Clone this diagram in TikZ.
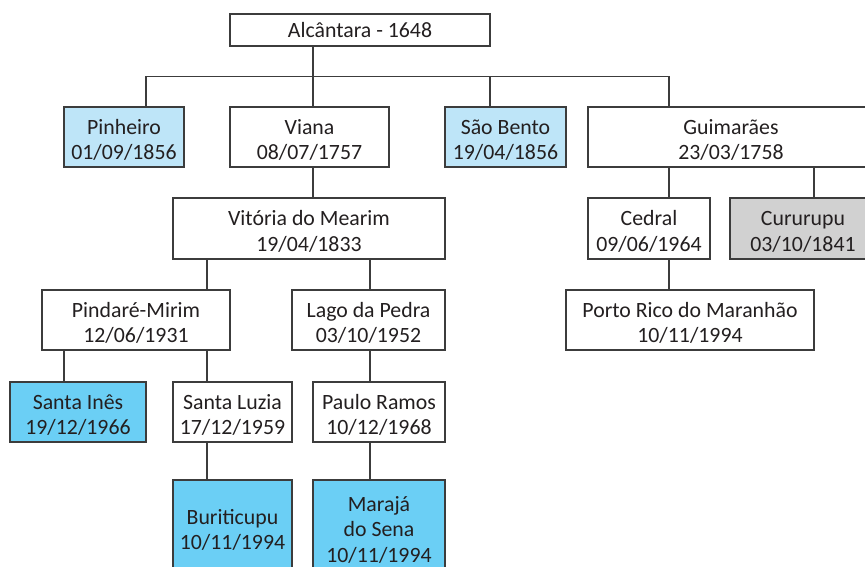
\documentclass[tikz,border=0pt]{standalone}
\usepackage{fontspec}
\setmainfont{Carlito}
\definecolor{ink}{HTML}{231F20}
\definecolor{linegray}{HTML}{3C3C3C}
\definecolor{paleblue}{HTML}{BEE5F8}
\definecolor{skyblue}{HTML}{6BCFF5}
\definecolor{midgray}{HTML}{D1D1D1}
% uniform height for the first text line of every box
\newcommand{\firstline}{\rule{0pt}{20.5pt}}
\begin{document}
\begin{tikzpicture}[x=1pt,y=-1pt,
  box/.style={draw=linegray, line width=1.3pt, rectangle, inner sep=0pt,
    align=center, text=ink, font=\fontsize{21.8}{25.5}\selectfont},
  link/.style={draw=linegray, line width=1.3pt},
]
\clip (0,0) rectangle (865,566);
\fill[white] (0,0) rectangle (865,566);

% municipalities
\node[box, minimum width=260pt, minimum height=32pt] (root) at (360,30) {Alcântara - 1648};
\node[box, fill=paleblue, minimum width=120pt, minimum height=60pt] (pin) at (124,137) {\firstline Pinheiro\\01/09/1856};
\node[box, minimum width=159pt, minimum height=60pt] (viana) at (309.5,137) {\firstline Viana\\08/07/1757};
\node[box, fill=paleblue, minimum width=121pt, minimum height=60pt] (sb) at (505.5,137) {\firstline São Bento\\19/04/1856};
\node[box, minimum width=286pt, minimum height=60pt] (gui) at (731,137) {\firstline Guimarães\\23/03/1758};

\node[box, minimum width=272pt, minimum height=61pt] (vit) at (309,228.5) {\firstline Vitória do Mearim\\19/04/1833};
\node[box, minimum width=122pt, minimum height=61pt] (ced) at (649,228.5) {\firstline Cedral\\09/06/1964};
\node[box, fill=midgray, minimum width=146pt, minimum height=61pt] (cur) at (803,228.5) {\firstline Cururupu\\03/10/1841};

\node[box, minimum width=188pt, minimum height=60pt] (pind) at (136,320) {\firstline Pindaré-Mirim\\12/06/1931};
\node[box, minimum width=153pt, minimum height=60pt] (lago) at (368.5,320) {\firstline Lago da Pedra\\03/10/1952};
\node[box, minimum width=248pt, minimum height=60pt] (porto) at (690,320) {\firstline Porto Rico do Maranhão\\10/11/1994};

\node[box, fill=skyblue, minimum width=136pt, minimum height=60pt] (ines) at (78,412) {\firstline Santa Inês\\19/12/1966};
\node[box, minimum width=119pt, minimum height=60pt] (luz) at (232.5,412) {\firstline Santa Luzia\\17/12/1959};
\node[box, minimum width=132pt, minimum height=60pt] (paulo) at (379,412) {\firstline Paulo Ramos\\10/12/1968};

\node[box, fill=skyblue, minimum width=119pt, minimum height=94pt] (buri) at (232.5,527) {\firstline Buriticupu\\10/11/1994};
\node[box, fill=skyblue, minimum width=132pt, minimum height=94pt] (mara) at (379,527) {\firstline Marajá\\do Sena\\10/11/1994};

% branching from Alcântara
\coordinate (r0) at ([xshift=-47pt]root.south);
\draw[link] (r0) -- ++(0,30) coordinate (hub);
\coordinate (p0) at ([xshift=22pt]pin.north);
\coordinate (s0) at ([xshift=-15.5pt]sb.north);
\coordinate (g0) at ([xshift=-62pt]gui.north);
\draw[link] (p0) |- (hub);
\draw[link] (g0) |- (hub);
\draw[link] (s0) -- (s0 |- hub);
\draw[link] (hub) -- (hub |- viana.north);

% Viana line
\coordinate (v0) at ([xshift=3.5pt]viana.south);
\draw[link] (v0) -- (v0 |- vit.north);
\coordinate (v1) at ([xshift=-102pt]vit.south);
\coordinate (v2) at ([xshift=61pt]vit.south);
\draw[link] (v1) -- (v1 |- pind.north);
\draw[link] (v2) -- (v2 |- lago.north);
\coordinate (q1) at ([xshift=-72pt]pind.south);
\coordinate (q2) at ([xshift=71pt]pind.south);
\draw[link] (q1) -- (q1 |- ines.north);
\draw[link] (q2) -- (q2 |- luz.north);
\coordinate (l0) at ([xshift=1.5pt]lago.south);
\draw[link] (l0) -- (l0 |- paulo.north);
\coordinate (z0) at ([xshift=-25.5pt]luz.south);
\draw[link] (z0) -- (z0 |- buri.north);
\coordinate (k0) at ([xshift=-9pt]paulo.south);
\draw[link] (k0) -- (k0 |- mara.north);

% Guimarães line
\coordinate (g1) at ([xshift=-62pt]gui.south);
\coordinate (g2) at ([xshift=83pt]gui.south);
\draw[link] (g1) -- (g1 |- ced.north);
\draw[link] (g2) -- (g2 |- cur.north);
\coordinate (c0) at ([xshift=20pt]ced.south);
\draw[link] (c0) -- (c0 |- porto.north);
\end{tikzpicture}
\end{document}
